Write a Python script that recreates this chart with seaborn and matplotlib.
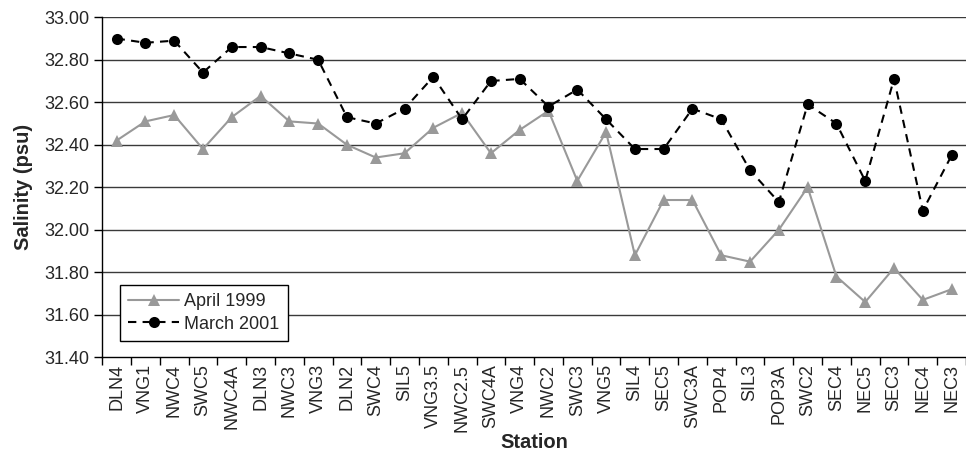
import numpy as np
import pandas as pd
import matplotlib
matplotlib.use("Agg")
import matplotlib.pyplot as plt
import seaborn as sns

# station names along the transect
stations = ["DLN4", "VNG1", "NWC4", "SWC5", "NWC4A", "DLN3", "NWC3", "VNG3",
            "DLN2", "SWC4", "SIL5", "VNG3.5", "NWC2.5", "SWC4A", "VNG4", "NWC2",
            "SWC3", "VNG5", "SIL4", "SEC5", "SWC3A", "POP4", "SIL3", "POP3A",
            "SWC2", "SEC4", "NEC5", "SEC3", "NEC4", "NEC3"]

# salinity (psu)
april_1999 = [32.42, 32.51, 32.54, 32.38, 32.53, 32.63, 32.51, 32.50,
              32.40, 32.34, 32.36, 32.48, 32.55, 32.36, 32.47, 32.56,
              32.23, 32.46, 31.88, 32.14, 32.14, 31.88, 31.85, 32.00,
              32.20, 31.78, 31.66, 31.82, 31.67, 31.72]
march_2001 = [32.90, 32.88, 32.89, 32.74, 32.86, 32.86, 32.83, 32.80,
              32.53, 32.50, 32.57, 32.72, 32.52, 32.70, 32.71, 32.58,
              32.66, 32.52, 32.38, 32.38, 32.57, 32.52, 32.28, 32.13,
              32.59, 32.50, 32.23, 32.71, 32.09, 32.35]

y_ticks = [31.40, 31.60, 31.80, 32.00, 32.20, 32.40, 32.60, 32.80, 33.00]

sns.set_style("white")
plt.rcParams["font.family"] = ["Liberation Sans", "DejaVu Sans"]

df = pd.DataFrame({"pos": np.arange(len(stations)),
                   "station": stations,
                   "April 1999": april_1999,
                   "March 2001": march_2001})

fig = plt.figure(figsize=(9.66, 4.67), dpi=100)
ax = fig.add_axes([0.1058, 0.235, 0.8942, 0.728])

# horizontal grid lines
for v in y_ticks[1:]:
    ax.axhline(v, color="#3a3a3a", lw=1.0, zorder=0)

sns.lineplot(data=df, x="pos", y="April 1999", ax=ax, color="#999999",
             lw=1.5, marker="^", markersize=9, markeredgewidth=0,
             label="April 1999")
sns.lineplot(data=df, x="pos", y="March 2001", ax=ax, color="black",
             lw=1.5, linestyle=(0, (4, 3)), marker="o", markersize=8,
             markeredgewidth=0, label="March 2001")

# the right end of the category axis is cut off by the image edge
ax.set_ylim(31.40, 33.00)
ax.set_xlim(-0.5, 29.29)
ax.set_yticks(y_ticks)
ax.set_yticklabels([f"{v:.2f}" for v in y_ticks], fontsize=13)

# ticks between categories, labels centred on each station
ax.set_xticks(np.arange(-0.5, len(stations), 1))
ax.set_xticklabels([])
ax.set_xticks(np.arange(len(stations)), minor=True)
ax.set_xticklabels(stations, minor=True, rotation=90, fontsize=13)
ax.tick_params(axis="x", which="major", direction="out", length=6,
               width=1, color="black", bottom=True)
ax.tick_params(axis="x", which="minor", length=0, pad=5)
ax.tick_params(axis="y", direction="out", length=6, width=1,
               color="black", left=True, pad=3)

for side in ["top", "right"]:
    ax.spines[side].set_visible(False)
for side in ["left", "bottom"]:
    ax.spines[side].set_color("black")
    ax.spines[side].set_linewidth(1.0)

ax.set_xlabel("Station", fontsize=14.5, fontweight="bold", labelpad=1)
ax.set_ylabel("Salinity (psu)", fontsize=14.5, fontweight="bold", labelpad=8)

leg = ax.legend(loc="lower left", bbox_to_anchor=(0.021, 0.048),
                fontsize=13, frameon=True, fancybox=False, framealpha=1,
                edgecolor="black", handlelength=2.8, borderpad=0.45,
                labelspacing=0.3, handletextpad=0.3, borderaxespad=0)
leg.get_frame().set_linewidth(1.0)

fig.savefig("out.png", dpi=100)
